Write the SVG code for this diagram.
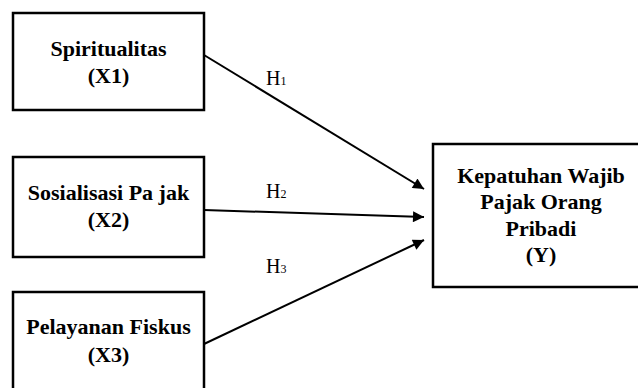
<svg xmlns="http://www.w3.org/2000/svg" width="638" height="388" viewBox="0 0 638 388">
<defs>
<style>
.box{fill:#fff;stroke:#000;stroke-width:2.5}
.t{font-family:"Liberation Serif","Times New Roman",serif;font-weight:bold;font-size:22px;text-anchor:middle;fill:#000}
.h{font-family:"Liberation Serif","Times New Roman",serif;font-size:20px;fill:#000}
.sub{font-size:12px}
.c{stroke:#000;stroke-width:2;fill:none}
</style>
<marker id="ah" viewBox="0 0 10 10" refX="10" refY="5" markerWidth="6.5" markerHeight="5.5" markerUnits="strokeWidth" orient="auto">
<path d="M0,0 L10,5 L0,10 z" fill="#000"/>
</marker>
</defs>
<rect width="638" height="388" fill="#fff"/>
<g id="x1">
<rect class="box" x="13" y="13" width="191" height="97"/>
<text class="t" x="108.5" y="56">Spiritualitas</text>
<text class="t" x="108.5" y="83">(X1)</text>
</g>
<g id="x2">
<rect class="box" x="13" y="157" width="191" height="100"/>
<text class="t" x="108.5" y="200">Sosialisasi Pa jak</text>
<text class="t" x="108.5" y="227">(X2)</text>
</g>
<g id="x3">
<rect class="box" x="13" y="292" width="191" height="110"/>
<text class="t" x="108.5" y="334">Pelayanan Fiskus</text>
<text class="t" x="108.5" y="362">(X3)</text>
</g>
<g id="y">
<rect class="box" x="433" y="144" width="217" height="143"/>
<text class="t" x="541" y="183">Kepatuhan Wajib</text>
<text class="t" x="541" y="209">Pajak Orang</text>
<text class="t" x="541" y="236">Pribadi</text>
<text class="t" x="541" y="262">(Y)</text>
</g>
<g id="connectors">
<line class="c" x1="204" y1="55" x2="424" y2="189" marker-end="url(#ah)"/>
<line class="c" x1="204" y1="210" x2="424" y2="217" marker-end="url(#ah)"/>
<line class="c" x1="204" y1="344" x2="424" y2="240" marker-end="url(#ah)"/>
<text class="h" x="266" y="85">H<tspan class="sub">1</tspan></text>
<text class="h" x="266" y="198">H<tspan class="sub">2</tspan></text>
<text class="h" x="266" y="273">H<tspan class="sub">3</tspan></text>
</g>
</svg>
